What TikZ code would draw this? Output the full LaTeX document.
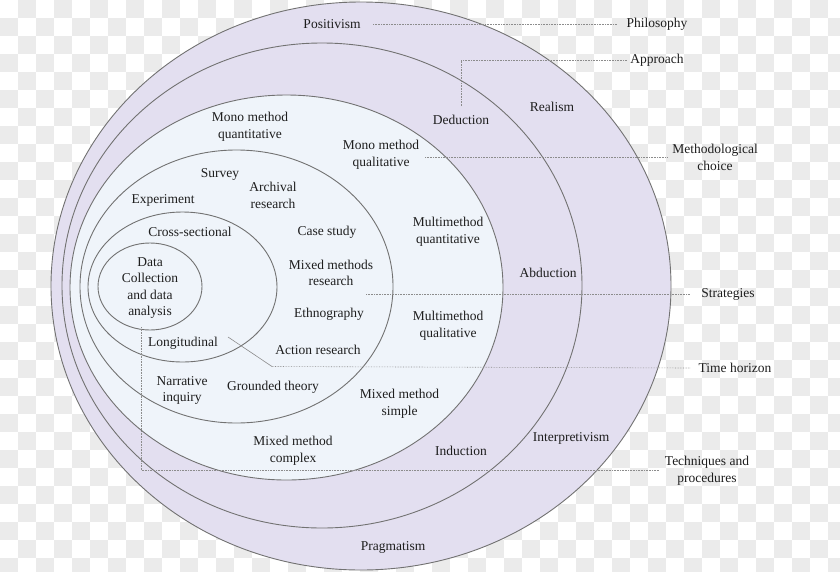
\documentclass[tikz,border=0pt]{standalone}
\usepackage{fontspec}
\setmainfont{Liberation Serif}
\newfontfamily\diagfont{Liberation Serif}
\usetikzlibrary{calc}
\definecolor{lav}{HTML}{E3DFF0}
\definecolor{pale}{HTML}{EFF4FA}
\definecolor{ringc}{HTML}{727272}
\definecolor{ink}{HTML}{1E1E1E}
\definecolor{leadc}{HTML}{8C8C8C}
\begin{document}
\begin{tikzpicture}[x=1pt,y=-1pt,
  lbl/.style={font=\diagfont\fontsize{13.5}{16.6}\selectfont, text=ink, align=center, inner sep=0pt},
  ringline/.style={draw=ringc, line width=0.9pt},
  leader/.style={draw=leadc, line width=0.6pt, densely dotted},
  leadsolid/.style={draw=leadc, line width=0.6pt},
  chkbox/.style={fill=black!8}]
\useasboundingbox (0,0) rectangle (840,571);
\fill[white] (0,0) rectangle (840,571);
\foreach \ci in {0,36,...,828}{\foreach \cj in {18,54,...,558}{\path[chkbox] (\ci,\cj) rectangle +(18,18);}}
\foreach \ci in {18,54,...,822}{\foreach \cj in {0,36,...,540}{\path[chkbox] (\ci,\cj) rectangle +(18,18);}}
% rings
\path[ringline, fill=lav] (361,286) ellipse [x radius=310pt, y radius=284pt];
\path[ringline, fill=lav] (322,285.5) ellipse [x radius=260pt, y radius=242.5pt];
\path[ringline, fill=pale] (286.5,287.5) ellipse [x radius=216.5pt, y radius=192.5pt];
\path[ringline, fill=pale] (236.5,286.5) ellipse [x radius=156.5pt, y radius=136.5pt];
\path[ringline, fill=pale] (182.5,287) ellipse [x radius=94.5pt, y radius=75pt];
\path[ringline, fill=pale] (150,286.5) ellipse [x radius=52pt, y radius=43.5pt];
% labels inside
\node[lbl] (positivism) at (332,24) {Positivism};
\node[lbl] (realism) at (552,107) {Realism};
\node[lbl] (deduction) at (461,120) {Deduction};
\node[lbl] (monoquan) at (250,126.5) {Mono method\\quantitative};
\node[lbl] (monoqual) at (381,154.5) {Mono method\\qualitative};
\node[lbl] (survey) at (220,174) {Survey};
\node[lbl] (archival) at (273,195.5) {Archival\\research};
\node[lbl] (experiment) at (163,200) {Experiment};
\node[lbl] (crosssec) at (190,232) {Cross-sectional};
\node[lbl] (casestudy) at (327,232) {Case study};
\node[lbl] (data) at (150,288) {Data\\Collection\\and data\\analysis};
\node[lbl] (mmr) at (331,273) {Mixed methods\\research};
\node[lbl] (multiquan) at (448,231.5) {Multimethod\\quantitative};
\node[lbl] (abduction) at (548,273) {Abduction};
\node[lbl] (ethno) at (329,314.5) {Ethnography};
\node[lbl] (multiqual) at (448,325.5) {Multimethod\\qualitative};
\node[lbl] (longit) at (183,343) {Longitudinal};
\node[lbl] (action) at (318,350) {Action research};
\node[lbl] (narrative) at (182,390.5) {Narrative\\inquiry};
\node[lbl] (grounded) at (273,387) {Grounded theory};
\node[lbl] (mmsimple) at (399.5,403.5) {Mixed method\\simple};
\node[lbl] (mmcomplex) at (293,450.5) {Mixed method\\complex};
\node[lbl] (induction) at (461,451) {Induction};
\node[lbl] (interp) at (571,438) {Interpretivism};
\node[lbl] (pragmatism) at (393,547) {Pragmatism};
% outside labels
\node[lbl] (philosophy) at (657,24) {Philosophy};
\node[lbl] (approach) at (657,60) {Approach};
\node[lbl] (methchoice) at (715,157.5) {Methodological\\choice};
\node[lbl] (strategies) at (728,294.5) {Strategies};
\node[lbl] (timehor) at (735,368) {Time horizon};
\node[lbl] (techniques) at (707,470.5) {Techniques and\\procedures};
% leader lines
\coordinate (p0) at (373,24);
\draw[leader] (p0) -- ([xshift=-9pt]philosophy.west);
\coordinate (a0) at (461,106);
\coordinate (a1) at (461,60);
\draw[leader] (a0) -- (a1) -- ([xshift=-3pt]approach.west);
\coordinate (m0) at (425,157.5);
\draw[leader] (m0) -- ([xshift=-5pt]methchoice.west);
\coordinate (s0) at (366,294.5);
\draw[leader] (s0) -- ([xshift=-11pt]strategies.west);
\coordinate (t0) at (228,337);
\coordinate (t1) at (272,366.5);
\draw[leadsolid] (t0) -- (t1);
\draw[leader] (t1) -- ([xshift=-8pt]timehor.west);
\coordinate (q0) at (141,327);
\coordinate (q1) at (141,470.5);
\draw[leader] (q0) -- (q1) -- ([xshift=-5pt]techniques.west);
\end{tikzpicture}
\end{document}
